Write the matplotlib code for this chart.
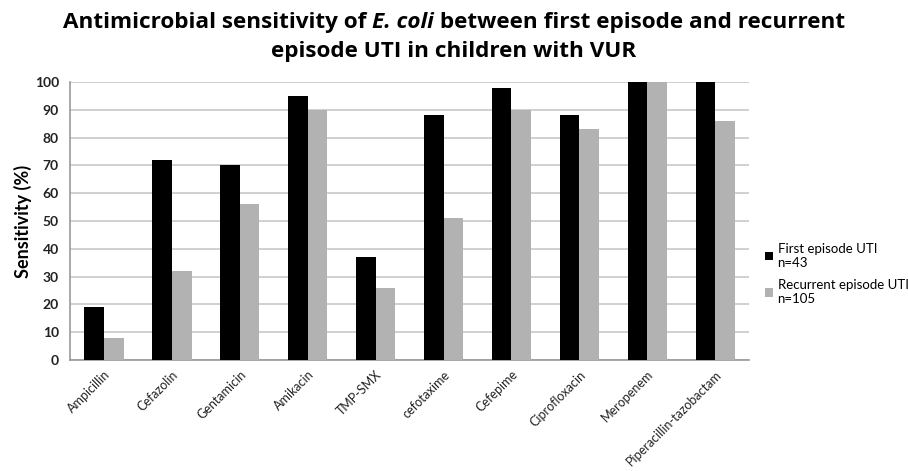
import numpy as np
import matplotlib.pyplot as plt

# Data
drugs = ['Ampicillin', 'Cefazolin', 'Gentamicin', 'Amikacin', 'TMP-SMX',
         'cefotaxime', 'Cefepime', 'Ciprofloxacin', 'Meropenem',
         'Piperacillin-tazobactam']
first_episode = [19, 72, 70, 95, 37, 88, 98, 88, 100, 100]
recurrent_episode = [8, 32, 56, 90, 26, 51, 90, 83, 100, 86]
labels = ['First episode UTI\nn=43', 'Recurrent episode UTI\nn=105']

plt.rcParams['font.family'] = ['Lato', 'DejaVu Sans']

fig = plt.figure(figsize=(9.08, 4.71), dpi=100)
ax = fig.add_axes([0.0771, 0.2357, 0.748, 0.590])

x = np.arange(len(drugs))
w = 0.29
ax.bar(x - w / 2, first_episode, w, color='black', label=labels[0], zorder=3)
ax.bar(x + w / 2, recurrent_episode, w, color='#b2b2b2', label=labels[1], zorder=3)

ax.set_xlim(-0.5, len(drugs) - 0.5)
ax.set_ylim(0, 100)
ax.set_yticks(range(0, 101, 10))
ax.yaxis.grid(True, color='#c8c8c8', linewidth=1.2, zorder=0)
ax.set_axisbelow(True)
for s in ['top', 'right']:
    ax.spines[s].set_visible(False)
ax.spines['left'].set_color('#999999')
ax.spines['bottom'].set_color('#999999')
ax.spines['left'].set_linewidth(1.2)
ax.spines['bottom'].set_linewidth(1.2)
ax.tick_params(axis='both', length=0, colors='#222222')
ax.tick_params(axis='y', labelsize=10, pad=8)
for t in ax.get_yticklabels():
    t.set_fontweight('bold')

ax.set_xticks(x)
ax.set_xticklabels(drugs, rotation=45, ha='right', rotation_mode='anchor', fontsize=9)
ax.tick_params(axis='x', pad=6)

ax.set_ylabel('Sensitivity (%)', fontsize=13, fontweight='bold', labelpad=2)

# title, first line built from pieces so "E. coli" can be italic
pieces = [('Antimicrobial sensitivity of ', 'normal'), ('E. coli', 'italic'),
          (' between first episode and recurrent', 'normal')]
tfont = ['Open Sans', 'DejaVu Sans']
tsize = 16.2
r = fig.canvas.get_renderer()
objs = []
for txt, st in pieces:
    objs.append(fig.text(0, 0.953, txt, fontsize=tsize, fontweight='bold', family=tfont,
                         style=st, ha='left', va='center'))
widths = [o.get_window_extent(r).width for o in objs]
xpos = (fig.bbox.width - sum(widths)) / 2
for o, wd in zip(objs, widths):
    o.set_x(xpos / fig.bbox.width)
    xpos += wd
fig.text(0.5, 0.89, 'episode UTI in children with VUR', family=tfont,
         fontsize=tsize, fontweight='bold', ha='center', va='center')

leg = ax.legend(loc='center left', bbox_to_anchor=(1.0, 0.31), frameon=False,
                fontsize=9.5, handlelength=0.6, handleheight=0.6, handletextpad=0.35,
                labelspacing=0.8, borderaxespad=0.8)

plt.savefig('out.png', dpi=100)
